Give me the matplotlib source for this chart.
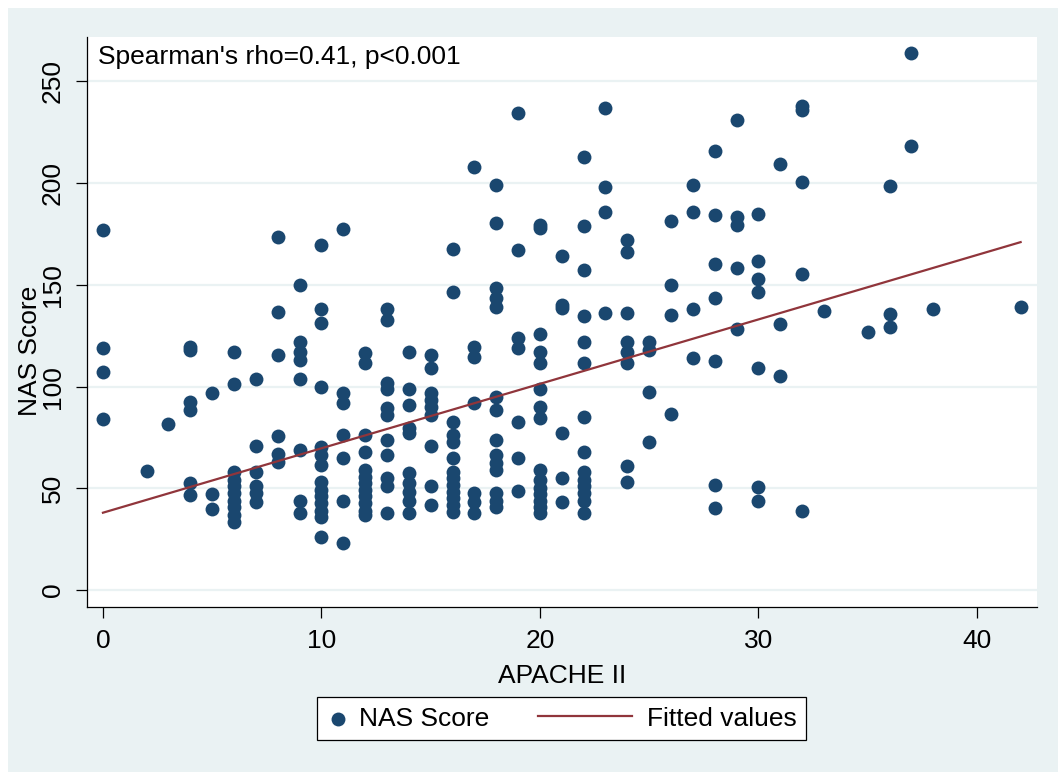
#!/usr/bin/env python3

import numpy as np
import matplotlib
matplotlib.use('Agg')
import matplotlib.pyplot as plt
from matplotlib.patches import Rectangle
from matplotlib.lines import Line2D
from matplotlib.legend_handler import HandlerLine2D

plt.rcParams['font.family'] = ['Liberation Sans', 'DejaVu Sans']

# APACHE II score -> NAS scores, one list per column
apache_nas = {
    0: [177, 119, 107, 84],
    2: [58.5],
    3: [81.5],
    4: [119.5, 118, 92.5, 88.5, 52.5, 46.5],
    5: [97, 47, 40],
    6: [117, 101.5, 58, 54, 51, 47.5, 44, 41, 37, 33.5],
    7: [103.5, 71, 58, 51, 47.5, 43.5],
    8: [173.5, 136.5, 115.5, 75.5, 67, 63],
    9: [150, 122, 117, 113, 103.5, 69, 44, 38],
    10: [169.5, 138, 131.5, 100, 70.5, 66.5, 61.5, 53, 49, 46, 43, 39, 36, 26],
    11: [177.5, 97, 92, 76, 65, 44, 23],
    12: [116.5, 111.5, 76, 68, 59, 55.5, 52.5, 49, 46, 43, 39, 37],
    13: [138, 132.5, 102, 99, 89.5, 86, 73.5, 66.5, 55, 51, 38],
    14: [117, 99, 91, 79.5, 77, 57.5, 52.5, 48, 44, 38],
    15: [115.5, 109, 97, 93.5, 90, 86, 71, 51, 42],
    16: [167.5, 146.5, 82.5, 76, 73, 65, 58, 55, 51.5, 48, 45, 42, 38.5],
    17: [208, 119.5, 114.5, 92, 47.5, 43.5, 38],
    18: [199, 180.5, 148.5, 143.5, 139, 95, 88.5, 73.5, 66.5, 62.5, 59, 47.5, 44, 41],
    19: [234.5, 167, 124, 119, 82.5, 65, 48.5],
    20: [179.5, 178, 126, 117, 111.5, 99, 90, 84.5, 59, 54, 50, 47, 44, 41, 38],
    21: [164, 140, 138.5, 77, 55, 43.5],
    22: [213, 179, 157.5, 134.5, 122, 111.5, 85, 68, 58, 54, 51, 47.5, 44, 38],
    23: [237, 198, 186, 136],
    24: [172, 166, 136, 122, 117, 111.5, 61, 53],
    25: [122, 118, 97.5, 73],
    26: [181.5, 150, 135, 86.5],
    27: [199, 186, 138, 114],
    28: [216, 184.5, 160.5, 143.5, 112.5, 51.5, 40.5],
    29: [231, 183.5, 179.5, 158.5, 128.5],
    30: [185, 161.5, 153, 146.5, 109, 50.5, 44],
    31: [209.5, 131, 105],
    32: [238, 236, 200.5, 155.5, 39],
    33: [137],
    35: [127],
    36: [198.5, 135.5, 129.5],
    37: [264, 218.5],
    38: [138],
    42: [139],
}
apache = np.array([k for k, v in apache_nas.items() for _ in v], dtype=float)
nas = np.array([y for v in apache_nas.values() for y in v], dtype=float)

# fitted line (the plotted dots overlap a lot,
# so refitting on them would not give the original line)
fit_intercept = 38.0
fit_slope = 3.167

x_ticks = [0, 10, 20, 30, 40]
y_ticks = [0, 50, 100, 150, 200, 250]
annot = "Spearman's rho=0.41, p<0.001"

navy = '#1A476F'
maroon = '#90353B'
bg = '#EAF2F3'

fit_x = np.array([apache.min(), apache.max()])
fit_y = fit_intercept + fit_slope * fit_x


class LongLine(HandlerLine2D):
    # legend key line wider than the marker key
    def create_artists(self, legend, orig_handle, xdescent, ydescent,
                       width, height, fontsize, trans):
        y = (height - ydescent) / 2
        ln = Line2D([width - xdescent - 71, width - xdescent - 3], [y, y])
        self.update_prop(ln, orig_handle, legend)
        ln.set_transform(trans)
        return [ln]


W, H = 1058, 772
fig = plt.figure(figsize=(W / 100, H / 100), dpi=100)
fig.patch.set_facecolor('white')
fig.patches.append(Rectangle((8 / W, 0), 1, (H - 8) / H, transform=fig.transFigure,
                             facecolor=bg, edgecolor='none', zorder=-10))

ax = fig.add_axes([87 / W, 165.3 / H, 950 / W, 569.4 / H])
ax.set_facecolor('white')

pts = ax.scatter(apache, nas, s=100, color=navy, linewidths=0, zorder=3, label='NAS Score')
line, = ax.plot(fit_x, fit_y, color=maroon, lw=1.6, zorder=4, label='Fitted values')

ax.set_xlim(-0.73, 42.75)
ax.set_ylim(-8.2, 271.7)
ax.set_xticks(x_ticks)
ax.set_yticks(y_ticks)
ax.tick_params(axis='both', labelsize=19, length=8, width=0.9, color='black', pad=8)
ax.tick_params(axis='y', labelrotation=90)
for lab in ax.get_yticklabels():
    lab.set_va('center')

ax.yaxis.grid(True, color=bg, lw=1.6)
ax.set_axisbelow(True)
for s in ['top', 'right']:
    ax.spines[s].set_visible(False)
for s in ['left', 'bottom']:
    ax.spines[s].set_color('black')
    ax.spines[s].set_linewidth(0.9)

ax.set_xlabel('APACHE II', fontsize=19, labelpad=8)
ax.set_ylabel('NAS Score', fontsize=19)
ax.yaxis.set_label_coords(-0.047, 0.45)

ax.text(0.0116, 0.953, annot, transform=ax.transAxes, fontsize=19, va='baseline', ha='left')

leg = fig.legend([pts, line], ['NAS Score', 'Fitted values'], ncol=2, loc='center',
                 bbox_to_anchor=(561.5 / W, 1 - 718.5 / H), fontsize=19,
                 handlelength=0.86, handletextpad=0.4, columnspacing=4.7,
                 borderpad=0.35, scatterpoints=1, fancybox=False, framealpha=1,
                 handler_map={Line2D: LongLine()})
leg.get_frame().set_edgecolor('black')
leg.get_frame().set_linewidth(0.9)

fig.savefig('out.png', dpi=100)
